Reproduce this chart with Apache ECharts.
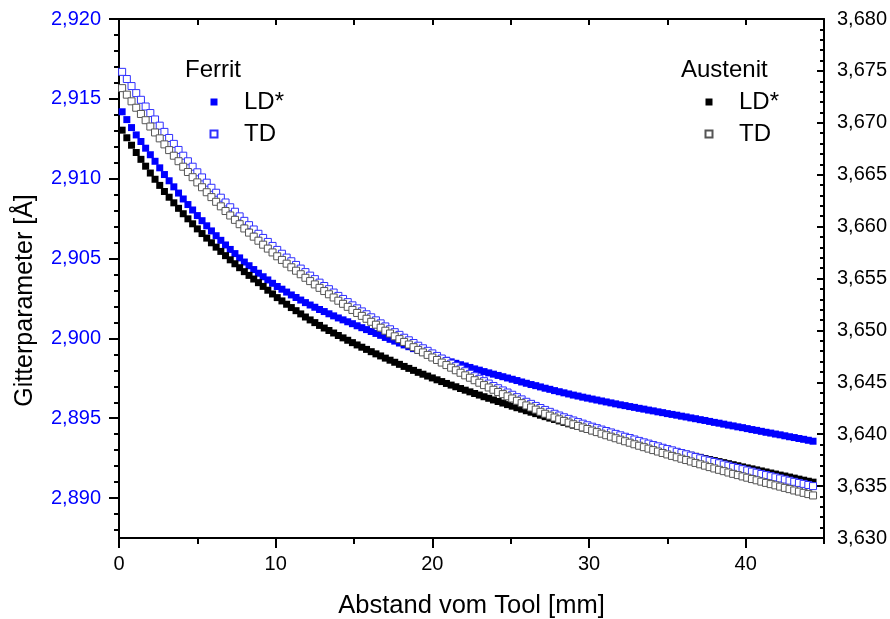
<!DOCTYPE html>
<html><head><meta charset="utf-8">
<script src="https://cdn.jsdelivr.net/npm/echarts@6/dist/echarts.min.js"></script>
<style>html,body{margin:0;padding:0;background:#fff}#c{width:890px;height:619px}</style>
</head><body><div id="c"></div>
<script>
// Abstand vom Tool [mm]
const xMm = [0.2,0.5,0.8,1.1,1.4,1.7,2.0,2.3,2.6,2.9,3.2,3.5,3.8,4.1,4.4,4.7,5.0,5.3,5.6,5.9,6.2,6.5,6.8,7.1,7.4,7.7,8.0,8.3,8.6,8.9,9.2,9.5,9.8,10.1,10.4,10.7,11.0,11.3,11.6,11.9,12.2,12.5,12.8,13.1,13.4,13.7,14.0,14.3,14.6,14.9,15.2,15.5,15.8,16.1,16.4,16.7,17.0,17.3,17.6,17.9,18.2,18.5,18.8,19.1,19.4,19.7,20.0,20.3,20.6,20.9,21.2,21.5,21.8,22.1,22.4,22.7,23.0,23.3,23.6,23.9,24.2,24.5,24.8,25.1,25.4,25.7,26.0,26.3,26.6,26.9,27.2,27.5,27.8,28.1,28.4,28.7,29.0,29.3,29.6,29.9,30.2,30.5,30.8,31.1,31.4,31.7,32.0,32.3,32.6,32.9,33.2,33.5,33.8,34.1,34.4,34.7,35.0,35.3,35.6,35.9,36.2,36.5,36.8,37.1,37.4,37.7,38.0,38.3,38.6,38.9,39.2,39.5,39.8,40.1,40.4,40.7,41.0,41.3,41.6,41.9,42.2,42.5,42.8,43.1,43.4,43.7,44.0,44.3];
// Ferrit LD* (left axis)
const ferritLD = [2.91419,2.91370,2.91320,2.91274,2.91233,2.91191,2.91150,2.91109,2.91068,2.91026,2.90987,2.90949,2.90910,2.90873,2.90838,2.90804,2.90769,2.90737,2.90705,2.90673,2.90643,2.90614,2.90585,2.90557,2.90531,2.90504,2.90478,2.90455,2.90431,2.90408,2.90386,2.90366,2.90345,2.90325,2.90308,2.90290,2.90272,2.90256,2.90240,2.90224,2.90209,2.90195,2.90181,2.90168,2.90154,2.90141,2.90128,2.90116,2.90104,2.90092,2.90079,2.90067,2.90055,2.90043,2.90031,2.90019,2.90006,2.89994,2.89983,2.89971,2.89959,2.89948,2.89936,2.89925,2.89914,2.89903,2.89893,2.89883,2.89873,2.89863,2.89853,2.89844,2.89835,2.89827,2.89818,2.89809,2.89801,2.89792,2.89784,2.89776,2.89768,2.89760,2.89752,2.89744,2.89736,2.89727,2.89719,2.89711,2.89704,2.89696,2.89688,2.89681,2.89673,2.89666,2.89659,2.89652,2.89645,2.89639,2.89632,2.89626,2.89620,2.89614,2.89608,2.89602,2.89596,2.89590,2.89584,2.89579,2.89573,2.89568,2.89562,2.89557,2.89551,2.89546,2.89540,2.89535,2.89529,2.89524,2.89519,2.89513,2.89508,2.89502,2.89497,2.89491,2.89486,2.89480,2.89474,2.89469,2.89463,2.89457,2.89452,2.89446,2.89441,2.89435,2.89429,2.89424,2.89418,2.89412,2.89407,2.89401,2.89396,2.89390,2.89384,2.89379,2.89373,2.89368,2.89362,2.89356];
// Ferrit TD (left axis)
const ferritTD = [2.91669,2.91624,2.91580,2.91536,2.91494,2.91452,2.91411,2.91371,2.91332,2.91293,2.91255,2.91218,2.91180,2.91144,2.91109,2.91075,2.91040,2.91008,2.90975,2.90943,2.90912,2.90881,2.90851,2.90821,2.90793,2.90764,2.90736,2.90709,2.90682,2.90655,2.90629,2.90604,2.90579,2.90554,2.90530,2.90506,2.90483,2.90460,2.90437,2.90415,2.90393,2.90371,2.90349,2.90328,2.90308,2.90287,2.90266,2.90247,2.90227,2.90207,2.90188,2.90169,2.90151,2.90132,2.90113,2.90094,2.90075,2.90057,2.90039,2.90022,2.90004,2.89988,2.89971,2.89954,2.89938,2.89922,2.89906,2.89890,2.89874,2.89858,2.89842,2.89826,2.89810,2.89794,2.89778,2.89763,2.89747,2.89732,2.89717,2.89702,2.89688,2.89674,2.89661,2.89647,2.89632,2.89618,2.89603,2.89590,2.89577,2.89564,2.89552,2.89540,2.89528,2.89517,2.89506,2.89496,2.89486,2.89476,2.89466,2.89456,2.89447,2.89438,2.89429,2.89420,2.89411,2.89402,2.89393,2.89384,2.89376,2.89367,2.89358,2.89349,2.89341,2.89332,2.89324,2.89315,2.89307,2.89299,2.89290,2.89282,2.89274,2.89266,2.89257,2.89249,2.89241,2.89234,2.89226,2.89218,2.89210,2.89203,2.89195,2.89188,2.89181,2.89173,2.89166,2.89159,2.89151,2.89144,2.89137,2.89130,2.89123,2.89116,2.89109,2.89102,2.89095,2.89089,2.89082,2.89075];
// Austenit LD* (right axis)
const austenitLD = [3.66929,3.66856,3.66784,3.66714,3.66648,3.66582,3.66516,3.66456,3.66397,3.66338,3.66283,3.66229,3.66176,3.66124,3.66075,3.66027,3.65978,3.65933,3.65889,3.65844,3.65802,3.65761,3.65720,3.65680,3.65642,3.65604,3.65566,3.65530,3.65495,3.65460,3.65424,3.65387,3.65351,3.65316,3.65284,3.65252,3.65220,3.65190,3.65159,3.65129,3.65101,3.65075,3.65048,3.65023,3.64999,3.64975,3.64951,3.64928,3.64905,3.64882,3.64860,3.64838,3.64817,3.64795,3.64774,3.64754,3.64733,3.64713,3.64693,3.64673,3.64653,3.64634,3.64615,3.64596,3.64578,3.64560,3.64542,3.64524,3.64507,3.64489,3.64473,3.64457,3.64440,3.64424,3.64408,3.64392,3.64377,3.64361,3.64346,3.64330,3.64315,3.64300,3.64285,3.64270,3.64255,3.64241,3.64226,3.64212,3.64198,3.64183,3.64169,3.64155,3.64142,3.64128,3.64114,3.64100,3.64087,3.64074,3.64060,3.64047,3.64034,3.64022,3.64010,3.63998,3.63986,3.63974,3.63962,3.63951,3.63940,3.63929,3.63917,3.63906,3.63895,3.63883,3.63872,3.63861,3.63850,3.63840,3.63829,3.63818,3.63808,3.63797,3.63787,3.63777,3.63766,3.63756,3.63746,3.63736,3.63726,3.63716,3.63706,3.63696,3.63685,3.63675,3.63666,3.63656,3.63646,3.63636,3.63626,3.63616,3.63606,3.63597,3.63587,3.63577,3.63567,3.63557,3.63547,3.63538];
// Austenit TD (right axis)
const austenitTD = [3.67334,3.67271,3.67207,3.67145,3.67085,3.67025,3.66964,3.66907,3.66850,3.66792,3.66737,3.66683,3.66630,3.66577,3.66526,3.66476,3.66426,3.66379,3.66331,3.66284,3.66239,3.66195,3.66150,3.66107,3.66065,3.66023,3.65982,3.65942,3.65903,3.65864,3.65826,3.65788,3.65751,3.65714,3.65679,3.65643,3.65608,3.65575,3.65541,3.65507,3.65475,3.65443,3.65410,3.65379,3.65348,3.65317,3.65286,3.65256,3.65227,3.65197,3.65168,3.65140,3.65112,3.65083,3.65055,3.65026,3.64997,3.64970,3.64943,3.64916,3.64889,3.64864,3.64838,3.64812,3.64788,3.64764,3.64739,3.64715,3.64690,3.64666,3.64641,3.64616,3.64592,3.64567,3.64544,3.64520,3.64496,3.64473,3.64450,3.64428,3.64406,3.64386,3.64365,3.64344,3.64322,3.64299,3.64277,3.64257,3.64237,3.64216,3.64197,3.64179,3.64161,3.64143,3.64128,3.64112,3.64096,3.64080,3.64065,3.64050,3.64035,3.64020,3.64005,3.63990,3.63976,3.63961,3.63947,3.63932,3.63918,3.63903,3.63889,3.63875,3.63861,3.63847,3.63833,3.63819,3.63805,3.63791,3.63778,3.63764,3.63751,3.63737,3.63723,3.63710,3.63697,3.63683,3.63670,3.63657,3.63644,3.63631,3.63618,3.63606,3.63593,3.63581,3.63568,3.63556,3.63543,3.63531,3.63519,3.63507,3.63495,3.63483,3.63471,3.63458,3.63447,3.63435,3.63423,3.63410];
const xTicks = [0,10,20,30,40];
const xMinorTicks = [5,15,25,35,45];
const leftTicks = [2.890,2.895,2.900,2.905,2.910,2.915,2.920];
const rightTicks = [3.630,3.635,3.640,3.645,3.650,3.655,3.660,3.665,3.670,3.675,3.680];

const FONT = "'Liberation Sans', Arial, sans-serif";
const BLUE = '#0000ff';
function pairs(ys){ return xMm.map((x,i)=>[x, ys[i]]); }
function fmt(v){ return v.toFixed(3).replace('.', ','); }
function minors(majors, n, lo){
  const out=[]; const step=(majors[1]-majors[0])/n;
  for(let k=1;k<n;k++){ const v=+(majors[0]-k*step).toFixed(6); if(v>=lo) out.push(v); }
  for(let i=0;i<majors.length-1;i++) for(let k=1;k<n;k++) out.push(+(majors[i]+k*step).toFixed(6));
  return out;
}
const lineStyle = {color:'#000', width:2};
const chart = echarts.init(document.getElementById('c'), null, {renderer:'canvas'});
chart.setOption({
  animation:false,
  backgroundColor:'#fff',
  grid:{left:119, right:66, top:19, bottom:81, containLabel:false, outerBoundsMode:'none'},
  xAxis:[
    {type:'value', position:'bottom', min:0, max:45,
     axisLine:{show:true, onZero:false, lineStyle},
     axisTick:{show:true, customValues:xTicks, length:10, lineStyle:{width:2,color:'#000'}},
     axisLabel:{customValues:xTicks, fontSize:20, fontFamily:FONT, color:'#000', margin:16},
     splitLine:{show:false},
     name:'Abstand vom Tool [mm]', nameLocation:'middle', nameGap:55,
     nameTextStyle:{fontSize:25.5, fontFamily:FONT, color:'#000'}},
    {type:'value', position:'bottom', min:0, max:45,
     axisLine:{show:false, onZero:false},
     axisTick:{show:true, customValues:xMinorTicks, length:6, lineStyle:{width:2,color:'#000'}},
     axisLabel:{show:false}, splitLine:{show:false}},
    {type:'value', position:'top', min:0, max:45,
     axisLine:{show:true, onZero:false, lineStyle},
     axisTick:{show:true, inside:true, customValues:[5,10,15,20,25,30,35,40], length:6, lineStyle:{width:2,color:'#000'}},
     axisLabel:{show:false}, splitLine:{show:false}}
  ],
  yAxis:[
    {type:'value', position:'left', min:2.8875, max:2.92,
     axisLine:{show:true, onZero:false, lineStyle},
     axisTick:{show:true, customValues:leftTicks, length:10, lineStyle:{width:2,color:'#000'}},
     axisLabel:{customValues:leftTicks, formatter:fmt, fontSize:20, fontFamily:FONT, color:BLUE, margin:18},
     splitLine:{show:false},
     name:'Gitterparameter [Å]', nameLocation:'middle', nameGap:81, nameRotate:90,
     nameTextStyle:{fontSize:25, fontFamily:FONT, color:'#000', padding:[0,44,0,0]}},
    {type:'value', position:'right', min:3.630, max:3.680, interval:0.005,
     axisLine:{show:true, onZero:false, lineStyle},
     axisTick:{show:true, inside:true, length:7, lineStyle:{width:2,color:'#000'}},
     minorTick:{show:true, splitNumber:5, length:4, lineStyle:{width:2,color:'#000'}},
     axisLabel:{formatter:fmt, fontSize:20, fontFamily:FONT, color:'#000', margin:13},
     splitLine:{show:false}},
    {type:'value', position:'left', min:2.8875, max:2.92,
     axisLine:{show:false, onZero:false},
     axisTick:{show:true, customValues:minors(leftTicks,5,2.8875), length:5, lineStyle:{width:2,color:'#000'}},
     axisLabel:{show:false}, splitLine:{show:false}}
  ],
  legend:[
    {data:['LD*','TD'], left:209.5, top:86, orient:'vertical', padding:0, itemGap:0,
     itemWidth:50, itemHeight:7, icon:'path://M0 0H10V10H0Z', selectedMode:false,
     textStyle:{fontSize:24, fontFamily:FONT, color:'#000', lineHeight:32}},
    {data:['LD* ','TD '], left:704.5, top:86, orient:'vertical', padding:0, itemGap:0,
     itemWidth:50, itemHeight:7, icon:'path://M0 0H10V10H0Z', selectedMode:false,
     formatter:n=>n.trim(),
     textStyle:{fontSize:24, fontFamily:FONT, color:'#000', lineHeight:32}}
  ],
  graphic:[
    {type:'text', x:185, y:70, style:{text:'Ferrit', font:'24px '+FONT, fill:'#000', verticalAlign:'middle'}},
    {type:'text', x:681, y:70, style:{text:'Austenit', font:'24px '+FONT, fill:'#000', verticalAlign:'middle'}}
  ],
  series:[
    {name:'LD*', type:'scatter', xAxisIndex:0, yAxisIndex:0, symbol:'rect', symbolSize:7,
     itemStyle:{color:BLUE, opacity:1}, data:pairs(ferritLD)},
    {name:'LD* ', type:'scatter', xAxisIndex:0, yAxisIndex:1, symbol:'rect', symbolSize:7,
     itemStyle:{color:'#000', opacity:1}, data:pairs(austenitLD)},
    {name:'TD', type:'scatter', xAxisIndex:0, yAxisIndex:0, symbol:'rect', symbolSize:7,
     itemStyle:{color:'#fff', borderColor:'#3030ff', borderWidth:1, opacity:1}, data:pairs(ferritTD)},
    {name:'TD ', type:'scatter', xAxisIndex:0, yAxisIndex:1, symbol:'rect', symbolSize:7,
     itemStyle:{color:'#fff', borderColor:'#555', borderWidth:1, opacity:1}, data:pairs(austenitTD)}
  ]
});
</script></body></html>
